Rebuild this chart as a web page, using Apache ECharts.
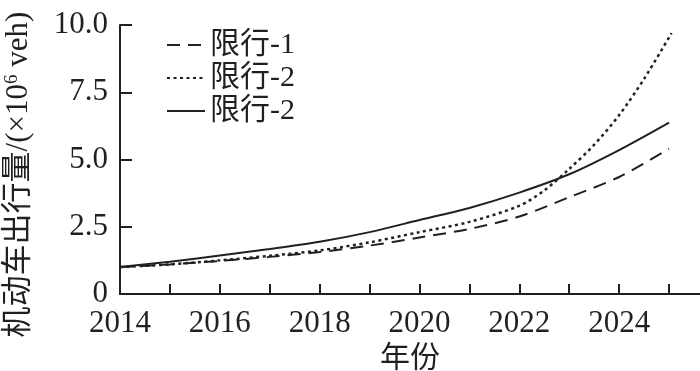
<!DOCTYPE html>
<html><head><meta charset="utf-8">
<script src="https://cdn.jsdelivr.net/npm/echarts@6/dist/echarts.min.js"></script>
<style>html,body{margin:0;padding:0;background:#fff}#c{width:700px;height:371px}</style>
</head><body><div id="c"></div>
<script>
const years = [2014, 2015, 2016, 2017, 2018, 2019, 2020, 2021, 2022, 2023, 2024, 2025];
const yearsDotted = [2014, 2015, 2016, 2017, 2018, 2019, 2020, 2021, 2022, 2022.5, 2023, 2023.5, 2024, 2024.5, 2025.05];
const dashedVals = [1.0, 1.1, 1.23, 1.38, 1.56, 1.8, 2.1, 2.42, 2.88, 3.6, 4.35, 5.4];
const dottedVals = [1.0, 1.1, 1.25, 1.42, 1.62, 1.92, 2.3, 2.68, 3.28, 3.85, 4.65, 5.55, 6.65, 8.0, 9.7];
const solidVals = [1.0, 1.2, 1.43, 1.67, 1.94, 2.3, 2.75, 3.2, 3.77, 4.45, 5.35, 6.37];
const legendLabels = ['限行-1', '限行-2', '限行-2'];
const xTickYears = [2015, 2016, 2017, 2018, 2019, 2020, 2021, 2022, 2023, 2024, 2025];
const xLabelYears = [2014, 2016, 2018, 2020, 2022, 2024];
const yTicks = [0, 2.5, 5, 7.5, 10];

const ink = '#231f20';
const serif = '"Liberation Serif", "Noto Sans CJK SC", serif';
const zip = (xs, ys) => xs.map((x, i) => [x, ys[i]]);
const ids = ['s1', 's2', 's3'];

const chart = echarts.init(document.getElementById('c'), null, {renderer: 'canvas'});
chart.setOption({
  animation: false,
  backgroundColor: '#fff',
  grid: {left: 120, top: 25, right: 0, bottom: 77, containLabel: false, outerBoundsMode: 'none'},
  legend: {
    left: 161, top: 25, orient: 'vertical',
    itemWidth: 38, itemHeight: 14, itemGap: 3,
    data: ids,
    formatter: n => legendLabels[ids.indexOf(n)],
    itemStyle: {opacity: 0},
    textStyle: {color: ink, fontSize: 30, lineHeight: 30, fontFamily: serif, padding: [0, 0, 0, 0]},
    inactiveColor: ink
  },
  xAxis: {
    type: 'value', min: 2014, max: 2025.62,
    name: '年份', nameLocation: 'middle', nameGap: 47,
    nameTextStyle: {color: ink, fontSize: 30, fontFamily: serif},
    axisLine: {show: true, lineStyle: {color: ink, width: 2}},
    axisTick: {show: true, inside: true, length: 10, lineStyle: {color: ink, width: 2}, customValues: xTickYears},
    axisLabel: {color: ink, fontSize: 31, fontFamily: serif, margin: 14, customValues: xLabelYears, formatter: v => String(v)},
    splitLine: {show: false}
  },
  yAxis: {
    type: 'value', min: 0, max: 10, interval: 2.5,
    name: '机动车出行量/(×10{sup|6} veh)', nameLocation: 'middle', nameGap: 86, nameRotate: 90,
    nameTextStyle: {color: ink, fontSize: 31, fontFamily: serif, padding: [0, 30, 0, 0],
      rich: {sup: {fontSize: 19, fontFamily: serif, color: ink, verticalAlign: 'top', padding: [0, 0, 12, 0]}}},
    axisLine: {show: true, lineStyle: {color: ink, width: 2}},
    axisTick: {show: true, inside: true, length: 12, lineStyle: {color: ink, width: 2}, customValues: yTicks},
    axisLabel: {color: ink, fontSize: 31, fontFamily: serif, margin: 12, formatter: v => v === 0 ? '0' : v.toFixed(1)},
    splitLine: {show: false}
  },
  series: [
    {id: 's1', name: 's1', type: 'line', smooth: 0.3, symbol: 'none', data: zip(years, dashedVals),
     lineStyle: {color: ink, width: 2, type: [13, 8]}, itemStyle: {color: ink}},
    {id: 's2', name: 's2', type: 'line', smooth: 0.3, symbol: 'none', data: zip(yearsDotted, dottedVals),
     lineStyle: {color: ink, width: 2.5, type: [3, 3.5]}, itemStyle: {color: ink}},
    {id: 's3', name: 's3', type: 'line', smooth: 0.3, symbol: 'none', data: zip(years, solidVals),
     lineStyle: {color: ink, width: 2}, itemStyle: {color: ink}}
  ]
});
</script></body></html>
